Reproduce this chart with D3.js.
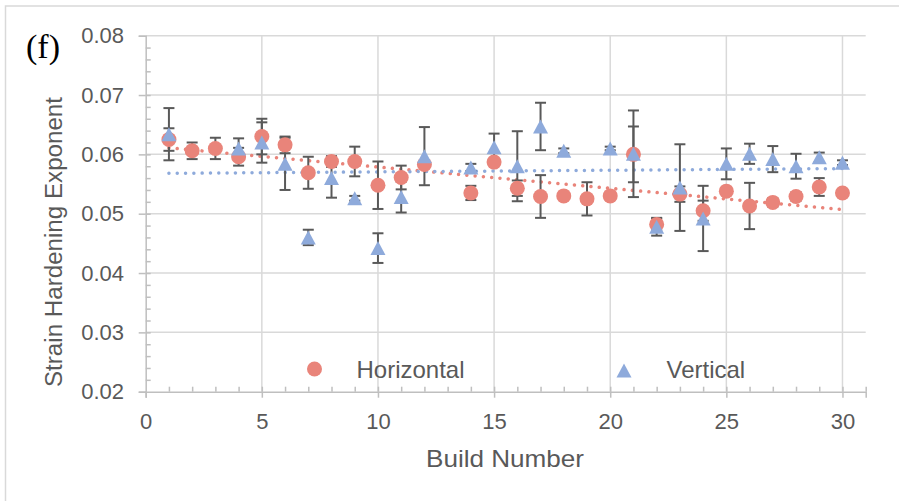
<!DOCTYPE html>
<html>
<head>
<meta charset="utf-8">
<script src="https://cdn.jsdelivr.net/npm/d3@7"></script>
<style>
  body { margin: 0; background: #fff; }
  text { font-family: "Liberation Sans", Arial, sans-serif; fill: #595959; }
</style>
</head>
<body>
<div id="chart"></div>
<script>
// data
let hBuild = [1, 2, 3, 4, 5, 6, 7, 8, 9, 10, 11, 12, 14, 15, 16, 17, 18, 19, 20, 21, 22, 23, 24, 25, 26, 27, 28, 29, 30]
let hValue = [0.0625, 0.0606, 0.0610, 0.0596, 0.0630, 0.0616, 0.0569, 0.0588, 0.0588, 0.0548, 0.0561, 0.0583, 0.0535, 0.0587, 0.0543, 0.0529, 0.0530, 0.0525, 0.0530, 0.0600, 0.0482, 0.0533, 0.0505, 0.0538, 0.0513, 0.0519, 0.0529, 0.0545, 0.0535]
let hError = [0.0019, 0.0014, 0.0018, 0.0015, 0.0030, 0.0014, 0.0027, 0.0009, 0.0025, 0.0040, 0.0020, 0.0003, 0.0012, 0.0003, 0.0013, 0.0036, 0.0002, 0.0028, 0.0006, 0.0047, 0.0010, 0.0013, 0.0017, 0.0005, 0.0039, 0.0007, 0.0007, 0.0015, 0.0005]

let vBuild = [1, 4, 5, 6, 7, 8, 9, 10, 11, 12, 14, 15, 16, 17, 18, 20, 21, 22, 23, 24, 25, 26, 27, 28, 29, 30]
let vValue = [0.0634, 0.0610, 0.0620, 0.0584, 0.0460, 0.0560, 0.0526, 0.0442, 0.0528, 0.0597, 0.0578, 0.0612, 0.0580, 0.0647, 0.0606, 0.0610, 0.0601, 0.0478, 0.0544, 0.0492, 0.0584, 0.0601, 0.0592, 0.0580, 0.0595, 0.0586]
let vError = [0.0044, 0.0017, 0.0034, 0.0044, 0.0013, 0.0033, 0.0004, 0.0025, 0.0026, 0.0049, 0.0006, 0.0023, 0.0059, 0.0040, 0.0004, 0.0003, 0.0073, 0.0015, 0.0073, 0.0055, 0.0026, 0.0017, 0.0022, 0.0021, 0.0008, 0.0004]

// trendline end points (as drawn)
let hTrend = [[1, 0.0611], [30, 0.0507]]
let vTrend = [[1, 0.0568], [30, 0.0576]]

let xTicks = [0, 5, 10, 15, 20, 25, 30]
let yTicks = [0.02, 0.03, 0.04, 0.05, 0.06, 0.07, 0.08]
let seriesNames = ['Horizontal', 'Vertical']

let red = '#E9847A'
let blue = '#8EAADB'
let grid = '#D9D9D9'

let svg = d3.select('#chart')
  .append('svg')
  .attr('width', 899)
  .attr('height', 501)

// chart border
svg.append('rect')
  .attr('x', 5.5).attr('y', 6)
  .attr('width', 900).attr('height', 500)
  .attr('fill', 'none')
  .attr('stroke', grid)
  .attr('stroke-width', 1.5)

let xScale = d3.scaleLinear().domain([0, 31]).range([145.7, 865.7])
let yScale = d3.scaleLinear().domain([0.02, 0.08]).range([391.7, 35.7])

// gridlines
svg.append('g')
  .selectAll('line')
  .data(yTicks.slice(1))
  .enter()
  .append('line')
  .attr('x1', xScale(0)).attr('x2', xScale(31))
  .attr('y1', d => yScale(d)).attr('y2', d => yScale(d))
  .attr('stroke', grid).attr('stroke-width', 1.5)

svg.append('g')
  .selectAll('line')
  .data(xTicks.slice(1))
  .enter()
  .append('line')
  .attr('x1', d => xScale(d)).attr('x2', d => xScale(d))
  .attr('y1', yScale(0.02)).attr('y2', yScale(0.08))
  .attr('stroke', grid).attr('stroke-width', 1.5)

// axes
let yAxis = d3.axisLeft(yScale).tickValues(yTicks).tickSize(7).tickPadding(14.7)
  .tickFormat(d3.format('.2f'))
let yMinor = d3.axisRight(yScale).tickValues(d3.range(0.022, 0.0799, 0.002)).tickSize(5).tickFormat('')
let xAxis = d3.axisBottom(xScale).tickValues(xTicks).tickSize(6).tickPadding(15.7)
let xMinor = d3.axisTop(xScale).tickValues(d3.range(1, 32)).tickSize(5).tickFormat('')

function styleAxis(g) {
  g.selectAll('.domain').attr('stroke', '#BFBFBF').attr('stroke-width', 1.5)
  g.selectAll('.tick line').attr('stroke', '#BFBFBF').attr('stroke-width', 1.5)
  g.selectAll('.tick text').attr('font-size', 22).attr('fill', '#595959')
    .attr('font-family', '"Liberation Sans", Arial, sans-serif')
}

svg.append('g').attr('transform', 'translate(' + xScale(0) + ',0)').call(yMinor).call(styleAxis)
  .select('.domain').remove()
svg.append('g').attr('transform', 'translate(0,' + yScale(0.02) + ')').call(xMinor).call(styleAxis)
  .select('.domain').remove()
svg.append('g').attr('transform', 'translate(' + xScale(0) + ',0)').call(yAxis).call(styleAxis)
svg.append('g').attr('transform', 'translate(0,' + yScale(0.02) + ')').call(xAxis).call(styleAxis)

// axis titles
svg.append('text')
  .attr('x', 505).attr('y', 466.5)
  .attr('text-anchor', 'middle')
  .attr('font-size', 24)
  .attr('textLength', 158).attr('lengthAdjust', 'spacingAndGlyphs')
  .text('Build Number')

svg.append('text')
  .attr('transform', 'translate(62,242) rotate(-90)')
  .attr('text-anchor', 'middle')
  .attr('font-size', 23)
  .attr('textLength', 290).attr('lengthAdjust', 'spacingAndGlyphs')
  .text('Strain Hardening Exponent')

svg.append('text')
  .attr('x', 26).attr('y', 58)
  .style('font-family', '"Liberation Serif", "Times New Roman", serif')
  .style('font-size', '34px')
  .style('fill', '#000')
  .text('(f)')

// trendlines
let line = d3.line().x(d => xScale(d[0])).y(d => yScale(d[1]))
svg.append('path').datum(hTrend).attr('d', line)
  .attr('fill', 'none').attr('stroke', red).attr('stroke-width', 3.5)
  .attr('stroke-linecap', 'round').attr('stroke-dasharray', '0.01 8.3')
svg.append('path').datum(vTrend).attr('d', line)
  .attr('fill', 'none').attr('stroke', blue).attr('stroke-width', 3.5)
  .attr('stroke-linecap', 'round').attr('stroke-dasharray', '0.01 8.3')

let hData = hBuild.map((b, i) => ({ x: b, y: hValue[i], e: hError[i] }))
let vData = vBuild.map((b, i) => ({ x: b, y: vValue[i], e: vError[i] }))

// error bars
function errorBars(data) {
  let g = svg.append('g').attr('stroke', '#595959').attr('stroke-width', 2)
  data.forEach(d => {
    let cx = xScale(d.x)
    let top = yScale(d.y + d.e)
    let bottom = yScale(d.y - d.e)
    g.append('line').attr('x1', cx).attr('x2', cx).attr('y1', top).attr('y2', bottom)
    g.append('line').attr('x1', cx - 5.5).attr('x2', cx + 5.5).attr('y1', top).attr('y2', top)
    g.append('line').attr('x1', cx - 5.5).attr('x2', cx + 5.5).attr('y1', bottom).attr('y2', bottom)
  })
}
errorBars(hData)
errorBars(vData)

let triangle = 'M0,-7.5L7.5,6.5L-7.5,6.5Z'

svg.append('g')
  .selectAll('circle')
  .data(hData)
  .enter()
  .append('circle')
  .attr('cx', d => xScale(d.x))
  .attr('cy', d => yScale(d.y))
  .attr('r', 7.5)
  .attr('fill', red)

svg.append('g')
  .selectAll('path')
  .data(vData)
  .enter()
  .append('path')
  .attr('d', triangle)
  .attr('transform', d => 'translate(' + xScale(d.x) + ',' + (yScale(d.y) + 0.5) + ')')
  .attr('fill', blue)

// legend
svg.append('circle').attr('cx', 314.5).attr('cy', 369).attr('r', 7.5).attr('fill', red)
svg.append('text').attr('x', 356.5).attr('y', 377.5).attr('font-size', 24).text(seriesNames[0])
svg.append('path').attr('d', triangle).attr('transform', 'translate(624,371)').attr('fill', blue)
svg.append('text').attr('x', 666.5).attr('y', 377.5).attr('font-size', 24).text(seriesNames[1])
</script>
</body>
</html>
